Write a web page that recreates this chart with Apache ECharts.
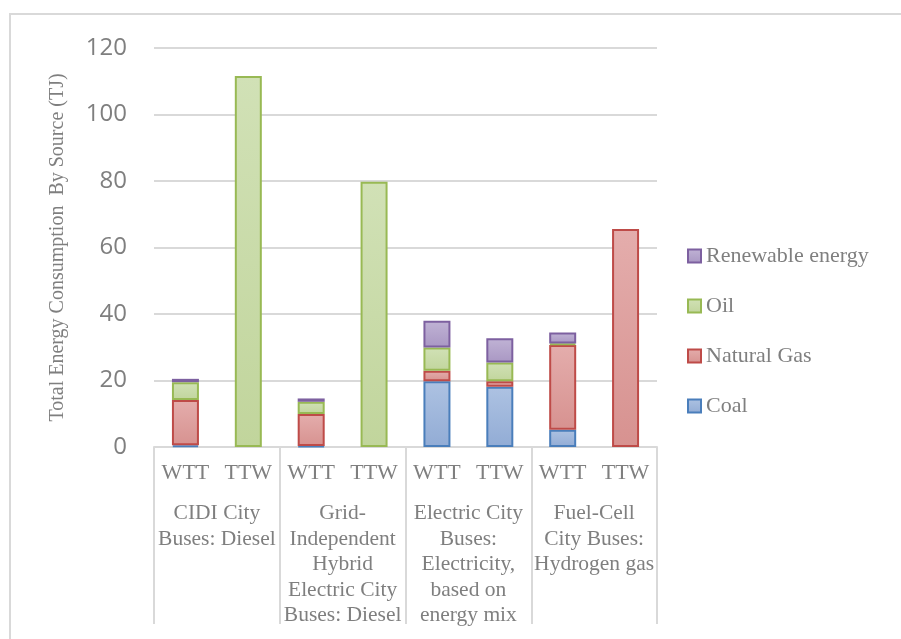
<!DOCTYPE html>
<html>
<head>
<meta charset="utf-8">
<script src="https://cdn.jsdelivr.net/npm/echarts@6/dist/echarts.min.js"></script>
<style>
  html, body { margin: 0; padding: 0; background: #ffffff; }
  #chart { width: 901px; height: 639px; }
</style>
</head>
<body>
<div id="chart"></div>
<script>
// Bus pathways (two stages each) and energy use by primary source, in TJ
const groups = [
  'CIDI City\nBuses: Diesel',
  'Grid-\nIndependent\nHybrid\nElectric City\nBuses: Diesel',
  'Electric City\nBuses:\nElectricity,\nbased on\nenergy mix',
  'Fuel-Cell\nCity Buses:\nHydrogen gas'
];
const stages = ['WTT', 'TTW', 'WTT', 'TTW', 'WTT', 'TTW', 'WTT', 'TTW'];

const coal       = [0.5, 0,     0.3, 0,    19.8, 18.1, 5.2,  0];
const naturalGas = [13.6, 0,    9.6, 0,    3.1,  1.7,  25.5, 65.6];
const oil        = [5.4, 111.6, 3.7, 79.8, 7.0,  5.6,  0.4,  0];
const renewable  = [1.0, 0,     1.0, 0,    8.1,  7.3,  3.3,  0];

const yTicks = { min: 0, max: 120, step: 20 };

const GRAY_TEXT = '#7f7f7f';
const GRID_LINE = '#d9d9d9';
const SERIF = '"Liberation Serif", "DejaVu Serif", serif';

function fill(top, bottom) {
  return {
    type: 'linear', x: 0, y: 0, x2: 0, y2: 1,
    colorStops: [{ offset: 0, color: top }, { offset: 1, color: bottom }]
  };
}

const sources = [
  { name: 'Coal',             values: coal,       border: '#4a7ebb', top: '#adc2e2', bottom: '#92acd5' },
  { name: 'Natural Gas',      values: naturalGas, border: '#be4b48', top: '#e4adac', bottom: '#d79290' },
  { name: 'Oil',              values: oil,        border: '#98b954', top: '#d1e1b6', bottom: '#c1d59c' },
  { name: 'Renewable energy', values: renewable,  border: '#7d60a0', top: '#c0b3d5', bottom: '#a997c3' }
];

const chart = echarts.init(document.getElementById('chart'), null, { renderer: 'canvas' });

chart.setOption({
  animation: false,
  backgroundColor: '#ffffff',
  graphic: [{
    type: 'rect',
    shape: { x: 10, y: 14, width: 905, height: 640 },
    style: { fill: 'none', stroke: GRID_LINE, lineWidth: 2 },
    silent: true,
    z: -1
  }],
  grid: { left: 154, right: 244, top: 48, bottom: 192, containLabel: false },
  legend: {
    orient: 'vertical',
    left: 682,
    top: 240,
    itemWidth: 13,
    itemHeight: 13,
    itemGap: 28,
    icon: 'rect',
    data: ['Renewable energy', 'Oil', 'Natural Gas', 'Coal'],
    textStyle: { fontFamily: SERIF, fontSize: 22, lineHeight: 21, color: GRAY_TEXT }
  },
  xAxis: [
    {
      type: 'category',
      data: stages,
      position: 'bottom',
      axisLine: { show: true, lineStyle: { color: GRID_LINE, width: 2 } },
      axisTick: { show: false },
      axisLabel: {
        interval: 0, margin: 15,
        fontFamily: SERIF, fontSize: 22, color: GRAY_TEXT
      },
      splitLine: { show: false }
    },
    {
      type: 'category',
      data: groups,
      position: 'bottom',
      axisLine: { show: false },
      axisTick: {
        show: true, interval: 0, length: 177,
        lineStyle: { color: GRID_LINE, width: 2 }
      },
      axisLabel: {
        interval: 0, margin: 54,
        fontFamily: SERIF, fontSize: 21.5, lineHeight: 25.5,
        color: GRAY_TEXT, align: 'center', verticalAlign: 'top'
      },
      splitLine: { show: false }
    }
  ],
  yAxis: {
    type: 'value',
    min: yTicks.min,
    max: yTicks.max,
    interval: yTicks.step,
    name: 'Total Energy Consumption  By Source (TJ)',
    nameLocation: 'middle',
    nameRotate: 90,
    nameGap: 86,
    nameTextStyle: { fontFamily: SERIF, fontSize: 20, color: GRAY_TEXT },
    axisLine: { show: false },
    axisTick: { show: false },
    axisLabel: { fontFamily: '"Open Sans", sans-serif', fontSize: 24, color: GRAY_TEXT, margin: 27 },
    splitLine: { lineStyle: { color: GRID_LINE, width: 2 } }
  },
  series: sources.map(s => ({
    name: s.name,
    type: 'bar',
    stack: 'energy',
    xAxisIndex: 0,
    barWidth: 27,
    data: s.values.map(v => (v === 0 ? null : v)),
    itemStyle: {
      color: fill(s.top, s.bottom),
      borderColor: s.border,
      borderWidth: 2
    },
    emphasis: { disabled: true }
  }))
});
</script>
</body>
</html>
